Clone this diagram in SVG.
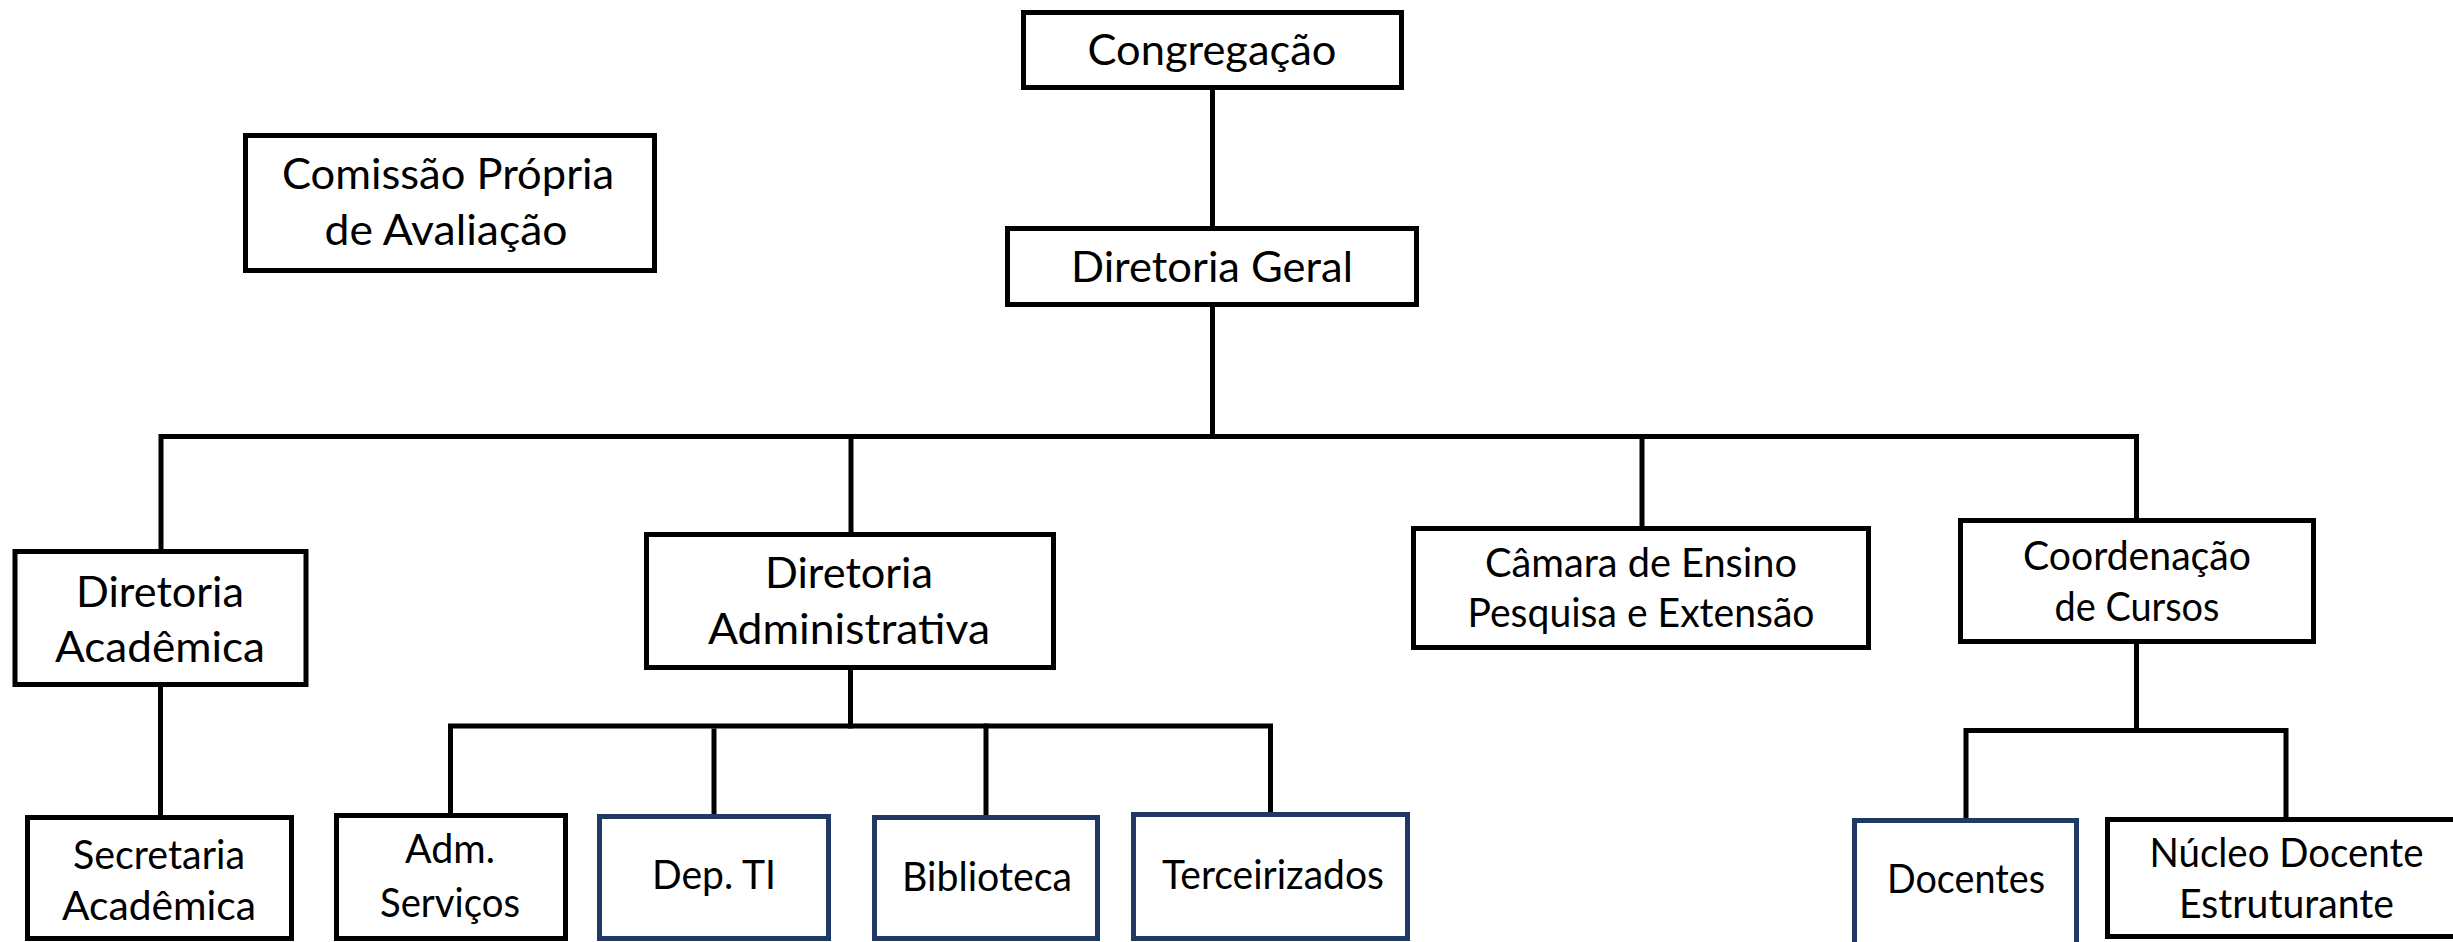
<svg xmlns="http://www.w3.org/2000/svg" width="2453" height="942" viewBox="0 0 2453 942">
<style>
.box{fill:#fff;stroke:#000;stroke-width:5}
.nbox{fill:#fff;stroke:#1f3864;stroke-width:5}
.ln{fill:none;stroke:#000;stroke-width:5;stroke-linecap:square;stroke-linejoin:miter}
text{font-family:Lato,"Open Sans","Liberation Sans",sans-serif;fill:#000;text-anchor:middle}
.t1{font-size:43px}
.t2{font-size:40px}
</style>
<rect width="2453" height="942" fill="#fff"/>
<g id="connectors">
<path class="ln" d="M1212.5 90 V226"/>
<path class="ln" d="M1212.5 307 V436.5"/>
<path class="ln" d="M161 549 V436.5 H2136.5 V518"/>
<path class="ln" d="M851 436.5 V532"/>
<path class="ln" d="M1642 436.5 V526"/>
<path class="ln" d="M160.5 687 V815"/>
<path class="ln" d="M850.5 670 V726"/>
<path class="ln" d="M450.5 813 V726 H1270.5 V812"/>
<path class="ln" d="M714 731 V814"/>
<path class="ln" d="M986 726 V815"/>
<path class="ln" d="M2136.5 644 V730.5"/>
<path class="ln" d="M1966 818 V730.5 H2286 V817"/>
</g>
<g id="congregacao"><rect class="box" x="1023.5" y="12.5" width="378" height="75"/><text class="t1" x="1212" y="65" textLength="249" lengthAdjust="spacingAndGlyphs">Congregação</text></g>
<g id="diretoria-geral"><rect class="box" x="1007.5" y="228.5" width="409" height="76"/><text class="t1" x="1212" y="282" textLength="282" lengthAdjust="spacingAndGlyphs">Diretoria Geral</text></g>
<g id="comissao"><rect class="box" x="245.5" y="135.5" width="409" height="135"/><text class="t1" x="448" y="189" textLength="332" lengthAdjust="spacingAndGlyphs">Comissão Própria</text><text class="t1" x="446" y="245" textLength="243" lengthAdjust="spacingAndGlyphs">de Avaliação</text></g>
<g id="dir-academica"><rect class="box" x="15" y="551.5" width="291" height="133"/><text class="t1" x="160" y="607" textLength="168" lengthAdjust="spacingAndGlyphs">Diretoria</text><text class="t1" x="160" y="662" textLength="210" lengthAdjust="spacingAndGlyphs">Acadêmica</text></g>
<g id="dir-administrativa"><rect class="box" x="646.5" y="534.5" width="407" height="133"/><text class="t1" x="849" y="588" textLength="168" lengthAdjust="spacingAndGlyphs">Diretoria</text><text class="t1" x="849" y="644" textLength="282" lengthAdjust="spacingAndGlyphs">Administrativa</text></g>
<g id="camara"><rect class="box" x="1413.5" y="528.5" width="455" height="119"/><text class="t2" x="1641" y="577" textLength="312" lengthAdjust="spacingAndGlyphs">Câmara de Ensino</text><text class="t2" x="1641" y="627" textLength="347" lengthAdjust="spacingAndGlyphs">Pesquisa e Extensão</text></g>
<g id="coordenacao"><rect class="box" x="1960.5" y="520.5" width="353" height="121"/><text class="t2" x="2137" y="570" textLength="228" lengthAdjust="spacingAndGlyphs">Coordenação</text><text class="t2" x="2137" y="621" textLength="165" lengthAdjust="spacingAndGlyphs">de Cursos</text></g>
<g id="secretaria"><rect class="box" x="27.5" y="817.5" width="264" height="121"/><text class="t2" x="159" y="869" textLength="172" lengthAdjust="spacingAndGlyphs">Secretaria</text><text class="t2" x="159" y="920" textLength="194" lengthAdjust="spacingAndGlyphs">Acadêmica</text></g>
<g id="adm-servicos"><rect class="box" x="336.5" y="815.5" width="229" height="123"/><text class="t2" x="450" y="863" textLength="90" lengthAdjust="spacingAndGlyphs">Adm.</text><text class="t2" x="450" y="917" textLength="140" lengthAdjust="spacingAndGlyphs">Serviços</text></g>
<g id="dep-ti"><rect class="nbox" x="599.5" y="816.5" width="229" height="122"/><text class="t2" x="714" y="889" textLength="124" lengthAdjust="spacingAndGlyphs">Dep. TI</text></g>
<g id="biblioteca"><rect class="nbox" x="874.5" y="817.5" width="223" height="121"/><text class="t2" x="987" y="891" textLength="170" lengthAdjust="spacingAndGlyphs">Biblioteca</text></g>
<g id="terceirizados"><rect class="nbox" x="1133.5" y="814.5" width="274" height="124"/><text class="t2" x="1273" y="889" textLength="222" lengthAdjust="spacingAndGlyphs">Terceirizados</text></g>
<g id="docentes"><rect class="nbox" x="1854.5" y="820.5" width="222" height="140"/><text class="t2" x="1966" y="893" textLength="158" lengthAdjust="spacingAndGlyphs">Docentes</text></g>
<g id="nucleo"><rect class="box" x="2107.5" y="819.5" width="400" height="117"/><text class="t2" x="2286.5" y="867" textLength="274" lengthAdjust="spacingAndGlyphs">Núcleo Docente</text><text class="t2" x="2286.5" y="918" textLength="215" lengthAdjust="spacingAndGlyphs">Estruturante</text></g>
</svg>
